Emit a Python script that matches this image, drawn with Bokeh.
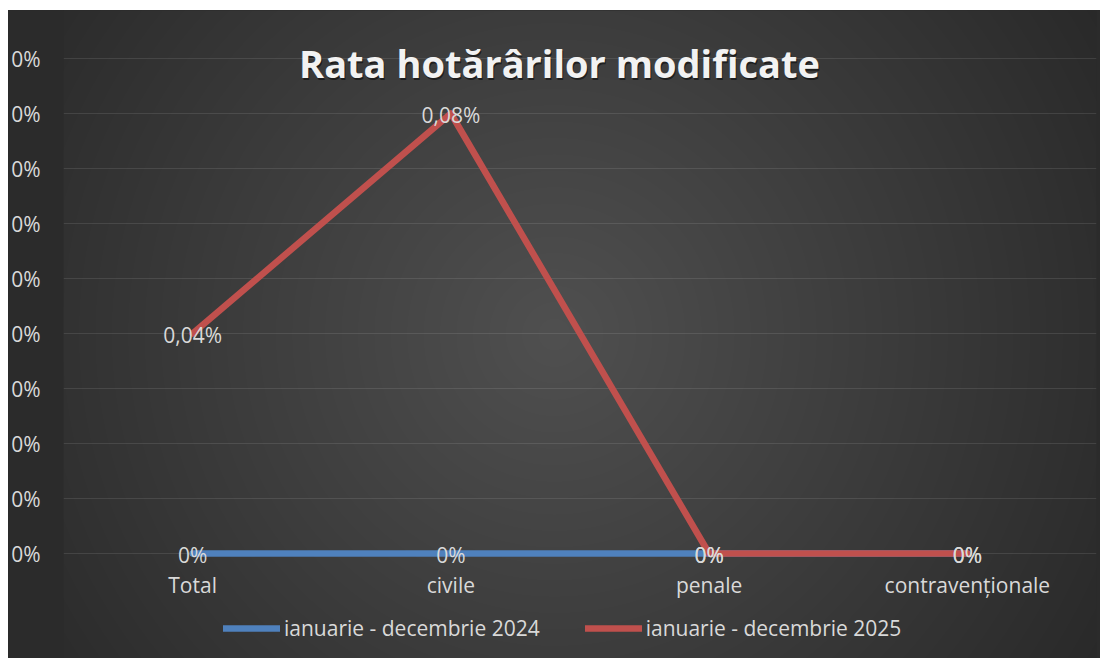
import numpy as np
from bokeh.plotting import figure
from bokeh.layouts import column, row
from bokeh.models import (ColumnDataSource, FactorRange, Range1d, FixedTicker,
                          NumeralTickFormatter, Label, Legend, LegendItem, Spacer)
from bokeh.core.properties import value
from bokeh.embed import file_html
from bokeh.resources import INLINE

# ---------------- data ----------------
categories = ["Total", "civile", "penale", "contravenționale"]
series_names = ["ianuarie - decembrie 2024", "ianuarie - decembrie 2025"]
values_2024 = [0.0, 0.0, 0.0, 0.0]
values_2025 = [0.0004, 0.0008, 0.0, 0.0]
y_ticks = [0.0, 0.0001, 0.0002, 0.0003, 0.0004, 0.0005, 0.0006, 0.0007, 0.0008, 0.0009]
title_text = "Rata hotărârilor modificate"


def fmt(v):
    pct = v * 100
    if abs(pct) < 1e-12:
        return "0%"
    return f"{pct:.2f}".replace(".", ",") + "%"


# ---------------- layout constants ----------------
OX, OY = 8, 10                      # offset of the chart on the page
W, H = 1100 - OX, 658 - OY
LEFT, RIGHT = 55, 4
FW, FH = W - LEFT - RIGHT, H
ZERO_Y = 553 - OY                   # zero line (page y=553), from frame top
PX_PER_TICK = 55.0
UNIT = 0.0001 / PX_PER_TICK         # data units per pixel
y_end = ZERO_Y * UNIT
y_start = -(FH - ZERO_Y) * UNIT

FONT = "Open Sans"
FS = "21px"
LABEL_COLOR = "#d9d9d9"
EDGE = "#2b2b2b"

p = figure(frame_width=FW, frame_height=FH,
           x_range=FactorRange(*categories, range_padding=0),
           y_range=Range1d(y_start, y_end),
           output_backend="svg", toolbar_location=None,
           min_border_left=LEFT, min_border_right=RIGHT,
           min_border_top=0, min_border_bottom=0)

p.border_fill_color = EDGE
p.background_fill_color = EDGE
p.outline_line_color = None

# radial gradient background, a bit larger than the frame (decoration only)
PAD = 20
bw = FW / len(categories)
ii = np.arange(-PAD, FW + PAD) + OX + LEFT + 0.5
jj = (OY + FH) - (np.arange(-PAD, FH + PAD) + 0.5)
X, Y = np.meshgrid(ii, jj)
cx, cy, R = 554.0, 334.0, 640.0
d = np.sqrt((X - cx) ** 2 + (Y - cy) ** 2) / R
c = np.clip(0x50 - (0x50 - 0x29) * d, 0x28, 0x50).astype(np.uint32)
img = ((255 << 24) | (c << 16) | (c << 8) | c).astype(np.uint32)
bg = p.image_rgba(image=[img], x=-PAD / bw, y=y_start - PAD * UNIT,
                  dw=(FW + 2 * PAD) / bw, dh=(FH + 2 * PAD) * UNIT)
bg.level = "image"

# axes
p.yaxis.ticker = FixedTicker(ticks=y_ticks)
p.yaxis.formatter = NumeralTickFormatter(format="0%")
for ax in (p.xaxis[0], p.yaxis[0]):
    ax.axis_line_color = None
    ax.major_tick_line_color = None
    ax.minor_tick_line_color = None
    ax.major_tick_in = 0
    ax.major_tick_out = 0
    ax.major_label_text_font = FONT
    ax.major_label_text_font_size = FS
    ax.major_label_text_color = LABEL_COLOR
p.yaxis.major_label_standoff = 23
p.xaxis.major_label_standoff = 17
p.xaxis.fixed_location = 0.0

p.xgrid.grid_line_color = None
p.ygrid.grid_line_color = "white"
p.ygrid.grid_line_alpha = 0.1
p.ygrid.grid_line_width = 1
p.ygrid.ticker = FixedTicker(ticks=y_ticks)

# lines
src24 = ColumnDataSource(dict(x=categories, y=values_2024, t=[fmt(v) for v in values_2024]))
src25 = ColumnDataSource(dict(x=categories, y=values_2025, t=[fmt(v) for v in values_2025]))

l24 = p.line("x", "y", source=src24, line_color="#4f81bd", line_width=6.5,
             line_join="round", line_cap="round")
l25 = p.line("x", "y", source=src25, line_color="#c0504d", line_width=6.5,
             line_join="round", line_cap="round")

for s in (src24, src25):
    r = p.text("x", "y", text="t", source=s, text_font=value(FONT),
               text_font_size=FS, text_color=LABEL_COLOR,
               text_align="center", text_baseline="middle", y_offset=1)
    r.level = "annotation"

# title (drawn over the top gridline like the original)
title_y = (ZERO_Y - (62 - OY)) * UNIT
title_x = (559 - OX - LEFT) / bw
shadow = Label(x=title_x, y=title_y, text=title_text, text_font=FONT,
               text_font_style="bold", text_font_size="38px", text_color="black",
               text_alpha=0.5, text_align="center", text_baseline="middle",
               x_offset=1, y_offset=-2)
title = Label(x=title_x, y=title_y, text=title_text, text_font=FONT,
              text_font_style="bold", text_font_size="38px", text_color="#f2f2f2",
              text_align="center", text_baseline="middle")
p.add_layout(shadow)
p.add_layout(title)

# legend inside the (extended) frame, under the category labels
legend_center_from_bottom = (OY + FH) - 628
legend = Legend(items=[LegendItem(label=series_names[0], renderers=[l24]),
                       LegendItem(label=series_names[1], renderers=[l25])],
                orientation="horizontal",
                location=(223 - OX - LEFT, legend_center_from_bottom - 14),
                padding=0, margin=0, spacing=45, glyph_width=57, glyph_height=20,
                label_standoff=4,
                background_fill_alpha=0, border_line_color=None,
                label_text_font=FONT, label_text_font_size=FS,
                label_text_color=LABEL_COLOR)
p.add_layout(legend)

layout = column(Spacer(width=1100, height=OY),
                row(Spacer(width=OX, height=H, styles={"background-color": "white"}), p,
                    spacing=0, styles={"background-color": EDGE}),
                spacing=0)

open("out.html", "w").write(file_html(layout, INLINE))
